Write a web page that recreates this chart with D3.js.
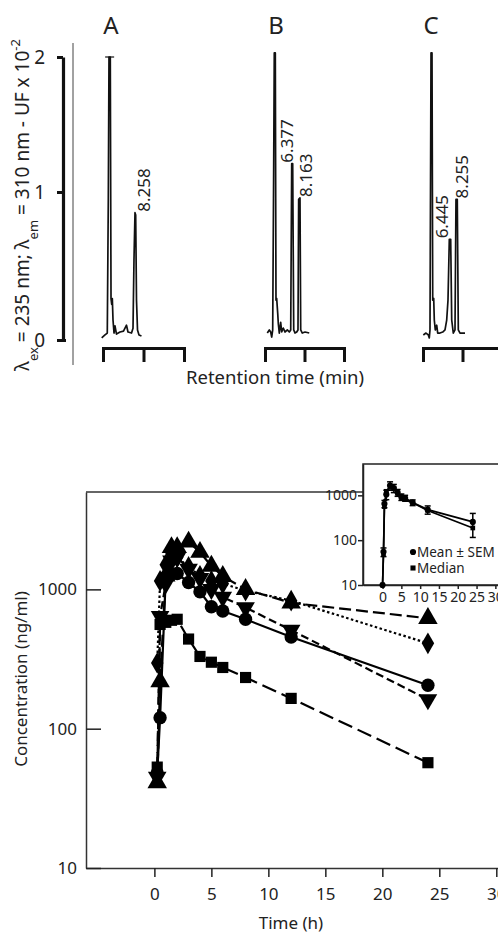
<!DOCTYPE html>
<html><head><meta charset="utf-8">
<script src="https://cdn.jsdelivr.net/npm/d3@7"></script>
<style>
body{margin:0;background:#fff}
svg{display:block}
text{font-family:"Noto Sans",sans-serif;fill:#222}
</style>
</head><body>
<svg id="c" width="498" height="934"></svg>
<script>
// ---------- Chromatogram data (retention time min, signal UF x 10^-2) ----------
const traceA = [[-0.32,0.014],[0.49,0.034],[1.06,0.047],[1.31,0.95],[1.48,2.0],[1.8,2.0],[1.98,0.28],[2.15,0.24],[2.3,0.28],[2.47,0.135],[2.72,0.047],[2.96,0.095],[3.33,0.04],[4.2,0.054],[5.06,0.06],[5.8,0.1],[6.17,0.054],[7.04,0.047],[7.41,0.08],[7.65,0.54],[7.9,0.86],[8.07,0.845],[8.27,0.27],[8.52,0.068],[8.89,0.034],[9.5,0.027]];
const traceB = [[0.58,0.047],[1.09,0.068],[1.44,0.054],[1.70,0.02],[1.95,0.068],[2.2,1.19],[2.35,2.03],[2.61,2.03],[2.78,0.27],[2.96,0.28],[3.22,0.18],[3.37,0.11],[3.62,0.047],[3.97,0.12],[4.23,0.054],[4.63,0.081],[5.06,0.054],[5.65,0.068],[6.15,0.054],[6.51,0.068],[6.76,1.21],[7.01,1.21],[7.27,0.068],[7.59,0.047],[8.03,0.054],[8.35,0.068],[8.52,0.95],[8.86,0.96],[9.04,0.068],[9.44,0.047],[10.13,0.054],[11.2,0.047]];
const traceC = [[0.08,0.034],[0.76,0.047],[1.34,0.034],[1.59,0.014],[1.77,0.068],[2.03,2.03],[2.28,2.03],[2.46,0.27],[2.71,0.28],[2.86,0.135],[3.11,0.068],[3.47,0.10],[3.72,0.047],[4.30,0.047],[4.99,0.054],[5.57,0.068],[6.0,0.135],[6.33,0.27],[6.66,0.68],[7.01,0.68],[7.27,0.135],[7.67,0.047],[8.10,0.068],[8.35,0.95],[8.68,0.95],[8.94,0.068],[9.37,0.047],[10.63,0.047]];
const panelNames = ["A","B","C"];
const labelsA = [["8.258",7.98,0.86]];
const labelsB = [["6.377",6.88,1.21],["8.163",8.69,0.96]];
const labelsC = [["6.445",6.83,0.68],["8.255",8.5,0.95]];
const signalTicks = [0,1,2];
const rtTicks = [0,10,20];

// ---------- Pharmacokinetic data ----------
const times = [0.25,0.5,1,1.5,2,3,4,5,6,8,12,24];
const sCircle   = [48,120,1230,1290,1300,1120,960,750,700,610,455,205];
const sSquare   = [53,560,580,600,610,440,330,300,275,233,165,57];
const sTriUp    = [41,218,1250,2000,2000,2190,1850,1470,1240,1000,800,620];
const sTriDown  = [45,640,1100,1600,1700,1400,1200,1000,880,740,510,162];
const sDiamond  = [296,1150,1500,1800,1700,1450,1250,1150,1100,980,830,410];
const timeTicks = [0,5,10,15,20,25,30];
const concTicks = [10,100,1000];

const insetTimes  = [0,0.25,0.5,1,2,3,4,5,6,8,12,24];
const insetMean   = [10,55,650,1050,1650,1450,1150,920,870,690,480,255];
const insetSEM    = [0,12,120,250,350,300,200,150,130,100,100,140];
const insetMedian = [10,50,560,1230,1600,1400,1100,900,800,680,460,187];

// ---------- Drawing ----------
const svg = d3.select("#c");
const INK = "#111";

// ===== Top: chromatograms =====
const yTop = d3.scaleLinear().domain([0,1,2]).range([340,192,57]);
const panelRanges = [[103,184],[265,344],[423,502]];
const traces = [traceA, traceB, traceC];
const labelSets = [labelsA, labelsB, labelsC];
const labelDx = [[8.5],[-5,7],[-8,5.5]];
const letterX = [111,276,431];

// thin scan border line
svg.append("line").attr("x1",73).attr("x2",73).attr("y1",43).attr("y2",365).attr("stroke","#444").attr("stroke-width",1);
// y axis
const gy = svg.append("g").attr("transform","translate(63,0)")
  .call(d3.axisLeft(yTop).tickValues(signalTicks).tickSize(6).tickSizeOuter(0).tickPadding(12).tickFormat(d3.format("d")));
gy.select(".domain").attr("stroke",INK).attr("stroke-width",3.2);
gy.selectAll(".tick line").attr("stroke",INK).attr("stroke-width",3);
gy.selectAll(".tick text").style("font-size","19px").attr("fill","#222").style("font-family","'Noto Sans',sans-serif");
gy.selectAll(".tick").filter(d=>d===0).select("line").attr("x2",-6).attr("x1",3);

// Y title
const yt = svg.append("text").attr("transform","translate(22,205) rotate(-90)")
  .attr("text-anchor","middle").attr("dy","0.35em").style("font-size","19px");
yt.append("tspan").text("\u03bb");
yt.append("tspan").attr("baseline-shift","sub").style("font-size","13px").text("ex");
yt.append("tspan").text(" = 235 nm; \u03bb");
yt.append("tspan").attr("baseline-shift","sub").style("font-size","13px").text("em");
yt.append("tspan").text(" = 310 nm - UF x 10");
yt.append("tspan").attr("baseline-shift","super").style("font-size","13px").text("-2");

const line = d3.line().curve(d3.curveLinear);
panelNames.forEach((name,i)=>{
  const xs = d3.scaleLinear().domain([0,20]).range(panelRanges[i]);
  // bracket axis
  const gb = svg.append("g").attr("transform","translate(0,348)")
    .call(d3.axisBottom(xs).tickValues(rtTicks).tickSize(14).tickSizeOuter(14).tickFormat(""));
  gb.select(".domain").attr("stroke",INK).attr("stroke-width",3).attr("fill","none");
  gb.selectAll(".tick line").attr("stroke",INK).attr("stroke-width",3);
  // trace
  svg.append("path").datum(traces[i])
    .attr("d", line.x(d=>xs(d[0])).y(d=>yTop(d[1])))
    .attr("fill","none").attr("stroke",INK).attr("stroke-width",1.7).attr("stroke-linejoin","round");
  // labels
  labelSets[i].forEach((l,j)=>{
    const px = xs(l[1]) + labelDx[i][j], py = yTop(l[2]) - 1;
    svg.append("text").attr("transform",`translate(${px},${py}) rotate(-90)`)
      .attr("dy","0.35em").attr("text-anchor","start").style("font-size","17px").text(l[0]);
  });
  // letter
  svg.append("text").attr("x",letterX[i]).attr("y",34).attr("text-anchor","middle")
    .style("font-size","24px").text(name);
});
// cap on the A solvent peak
{
  const xs = d3.scaleLinear().domain([0,20]).range(panelRanges[0]);
  svg.append("line").attr("x1",xs(1.64)-4.5).attr("x2",xs(1.64)+4.5)
    .attr("y1",yTop(2)).attr("y2",yTop(2)).attr("stroke",INK).attr("stroke-width",1.2);
}
svg.append("text").attr("x",275).attr("y",384).attr("text-anchor","middle")
  .style("font-size","18.5px").text("Retention time (min)");

// ===== Bottom: main PK plot =====
const x = d3.scaleLinear().domain([-6,30.5]).range([86,502]);
const y = d3.scaleLog().domain([10,5000]).range([868,492]);

// frame top
svg.append("line").attr("x1",x(-6)).attr("x2",x(30.5)).attr("y1",y(5000)).attr("y2",y(5000))
  .attr("stroke","#333").attr("stroke-width",1.5);
const gx = svg.append("g").attr("transform","translate(0,868)")
  .call(d3.axisBottom(x).tickValues(timeTicks).tickSize(9).tickSizeOuter(0).tickPadding(11));
const gyl = svg.append("g").attr("transform","translate(86,0)")
  .call(d3.axisLeft(y).tickValues(concTicks).tickSize(-15).tickSizeOuter(0).tickPadding(9).tickFormat(d3.format("d")));
[gx,gyl].forEach(g=>{
  g.select(".domain").attr("stroke","#333").attr("stroke-width",1.5);
  g.selectAll(".tick line").attr("stroke","#222").attr("stroke-width",1.5);
  g.selectAll(".tick text").style("font-size","17px").attr("fill","#222").style("font-family","'Noto Sans',sans-serif");
});
svg.append("text").attr("transform","translate(21,679) rotate(-90)").attr("text-anchor","middle")
  .attr("dy","0.35em").style("font-size","17px").text("Concentration (ng/ml)");
svg.append("text").attr("x",291).attr("y",929).attr("text-anchor","middle")
  .style("font-size","17px").text("Time (h)");

const series = [
  {vals:sSquare,  sym:d3.symbolSquare,   size:125, rot:0,   dash:"15,6"},
  {vals:sTriDown, sym:d3.symbolTriangle, size:150, rot:180, dash:"8,4"},
  {vals:sDiamond, sym:d3.symbolDiamond,  size:135, rot:0,   dash:"2.5,2.5"},
  {vals:sTriUp,   sym:d3.symbolTriangle, size:165, rot:0,   dash:"12,5"},
  {vals:sCircle,  sym:d3.symbolCircle,   size:140, rot:0,   dash:null}
];
const pkLine = d3.line().x((d,i)=>x(times[i])).y(d=>y(d));
series.forEach(s=>{
  svg.append("path").datum(s.vals).attr("d",pkLine).attr("fill","none")
    .attr("stroke","#000").attr("stroke-width",2.2).attr("stroke-dasharray",s.dash);
});
series.forEach(s=>{
  svg.append("g").selectAll("path").data(s.vals).join("path")
    .attr("d",d3.symbol(s.sym,s.size))
    .attr("transform",(d,i)=>`translate(${x(times[i])},${y(d)}) rotate(${s.rot})`)
    .attr("fill","#000");
});

// ===== Inset =====
const xi = d3.scaleLinear().domain([-5.2,31.5]).range([363,501]);
const yi = d3.scaleLog().domain([10,5000]).range([585,464]);
svg.append("rect").attr("x",363).attr("y",464).attr("width",160).attr("height",121)
  .attr("fill","#fff").attr("stroke","#222").attr("stroke-width",1.5);
const gix = svg.append("g").attr("transform","translate(0,585)")
  .call(d3.axisBottom(xi).tickValues(timeTicks).tickSize(4).tickSizeOuter(0).tickPadding(3));
const giy = svg.append("g").attr("transform","translate(363,0)")
  .call(d3.axisLeft(yi).tickValues(concTicks).tickSize(5).tickSizeOuter(0).tickPadding(1).tickFormat(d3.format("d")));
[gix,giy].forEach(g=>{
  g.select(".domain").attr("stroke","#222").attr("stroke-width",1.5);
  g.selectAll(".tick line").attr("stroke","#222").attr("stroke-width",1.5);
  g.selectAll(".tick text").style("font-size","14px").attr("fill","#222").style("font-family","'Noto Sans',sans-serif");
});
const iLine = d3.line().x((d,i)=>xi(insetTimes[i])).y(d=>yi(d));
svg.append("path").datum(insetMedian).attr("d",iLine).attr("fill","none").attr("stroke","#000").attr("stroke-width",1.7);
svg.append("path").datum(insetMean).attr("d",iLine).attr("fill","none").attr("stroke","#000").attr("stroke-width",1.7);
// error bars
const eb = svg.append("g");
insetMean.forEach((m,i)=>{
  if(!insetSEM[i]) return;
  const cx = xi(insetTimes[i]);
  const y1 = yi(m+insetSEM[i]), y2 = yi(Math.max(m-insetSEM[i],10));
  eb.append("line").attr("x1",cx).attr("x2",cx).attr("y1",y1).attr("y2",y2).attr("stroke","#000").attr("stroke-width",1.5);
  [y1,y2].forEach(yy=>eb.append("line").attr("x1",cx-3).attr("x2",cx+3).attr("y1",yy).attr("y2",yy).attr("stroke","#000").attr("stroke-width",1.5));
});
svg.append("g").selectAll("path").data(insetMedian).join("path")
  .attr("d",d3.symbol(d3.symbolSquare,22))
  .attr("transform",(d,i)=>`translate(${xi(insetTimes[i])},${yi(d)})`).attr("fill","#000");
svg.append("g").selectAll("path").data(insetMean).join("path")
  .attr("d",d3.symbol(d3.symbolCircle,30))
  .attr("transform",(d,i)=>`translate(${xi(insetTimes[i])},${yi(d)})`).attr("fill","#000");
// legend
const legend = [["Mean \u00b1 SEM", d3.symbolCircle, 30],["Median", d3.symbolSquare, 26]];
legend.forEach((l,i)=>{
  const ly = 552 + i*16;
  svg.append("path").attr("d",d3.symbol(l[1],l[2])).attr("transform",`translate(413,${ly})`).attr("fill","#000");
  svg.append("text").attr("x",417).attr("y",ly).attr("dy","0.35em").style("font-size","13.5px").text(l[0]);
});
</script>
</body></html>
